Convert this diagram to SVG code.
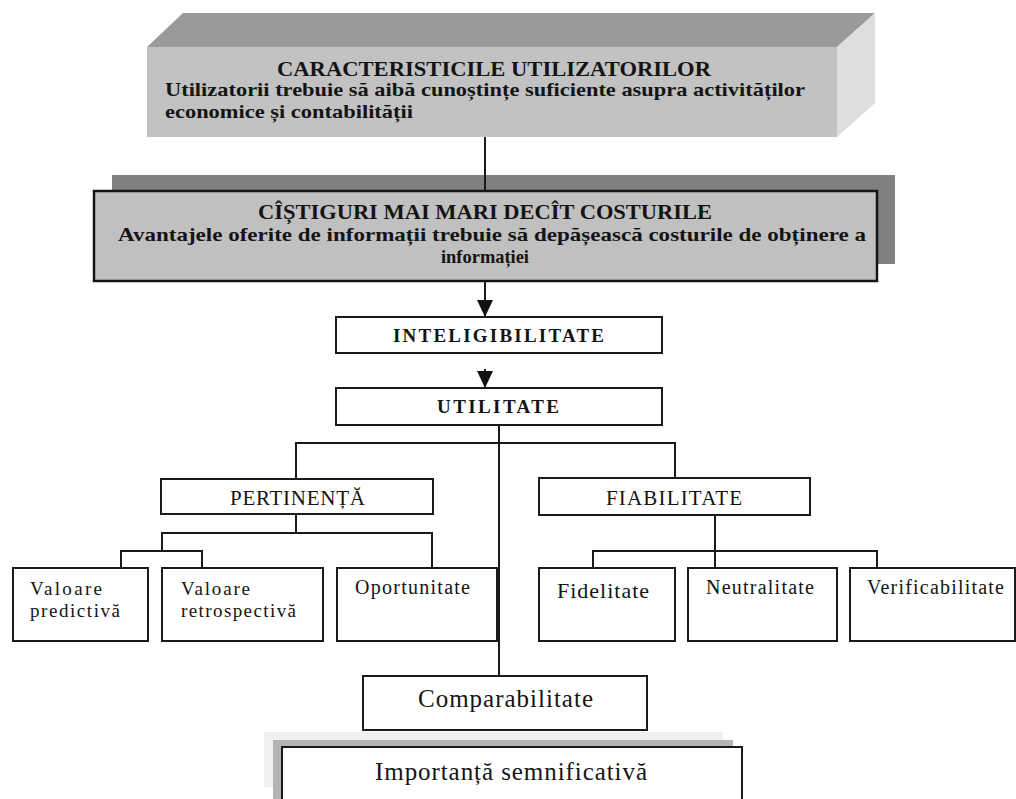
<svg xmlns="http://www.w3.org/2000/svg" width="1016" height="799" viewBox="0 0 1016 799">
  <style>
    .t { font-family: "Liberation Serif", "Times New Roman", serif; fill: #141414; }
    .b { font-weight: bold; }
    .box { fill: #ffffff; stroke: #1a1a1a; stroke-width: 2; }
    .gbox { fill: #c0c0c0; stroke: #141414; stroke-width: 2.5; }
    .ln { fill: none; stroke: #1a1a1a; stroke-width: 2; }
  </style>
  <defs>
    <marker id="arrow" markerUnits="userSpaceOnUse" markerWidth="18" markerHeight="16" refX="17" refY="8" orient="auto">
      <path d="M0,0 L17,8 L0,16 Z" fill="#111"/>
    </marker>
  </defs>
  <rect width="1016" height="799" fill="#ffffff"/>

  <!-- 3D block: user characteristics -->
  <g id="caracteristici">
    <polygon points="147,47 183,13 875,13 837,47" fill="#9a9a9a"/>
    <polygon points="837,47 875,13 875,103 837,137" fill="#dedede"/>
    <rect x="147" y="47" width="690" height="90" fill="#c2c2c2"/>
    <text class="t b" x="277" y="76" font-size="20" textLength="434" lengthAdjust="spacingAndGlyphs">CARACTERISTICILE UTILIZATORILOR</text>
    <text class="t b" x="165" y="96" font-size="19" textLength="640" lengthAdjust="spacingAndGlyphs">Utilizatorii trebuie să aibă cunoștințe suficiente asupra activităților</text>
    <text class="t b" x="165" y="118" font-size="19" textLength="248" lengthAdjust="spacingAndGlyphs">economice și contabilității</text>
  </g>

  <!-- Shadowed block: benefits over costs -->
  <g id="castiguri">
    <rect x="112" y="175" width="783" height="89" fill="#808080"/>
    <rect class="gbox" x="94" y="191" width="783" height="90"/>
    <text class="t b" x="258" y="219" font-size="20" textLength="454" lengthAdjust="spacingAndGlyphs">CÎȘTIGURI MAI MARI DECÎT COSTURILE</text>
    <text class="t b" x="118" y="241" font-size="19" textLength="748" lengthAdjust="spacingAndGlyphs">Avantajele oferite de informații trebuie să depășească costurile de obținere a</text>
    <text class="t b" x="441" y="263" font-size="19" textLength="88" lengthAdjust="spacingAndGlyphs">informației</text>
  </g>

  <g id="inteligibilitate">
    <rect class="box" x="336" y="317" width="326" height="36"/>
    <text class="t b" x="393" y="342" font-size="19" textLength="211" lengthAdjust="spacing">INTELIGIBILITATE</text>
  </g>

  <g id="utilitate">
    <rect class="box" x="336" y="388" width="326" height="37"/>
    <text class="t b" x="437" y="413" font-size="19" textLength="122" lengthAdjust="spacing">UTILITATE</text>
  </g>

  <g id="pertinenta">
    <rect class="box" x="161" y="479" width="272" height="35"/>
    <text class="t" x="230" y="505" font-size="21" textLength="135" lengthAdjust="spacing">PERTINENȚĂ</text>
  </g>

  <g id="fiabilitate">
    <rect class="box" x="539" y="478" width="271" height="37"/>
    <text class="t" x="606" y="505" font-size="21" textLength="136" lengthAdjust="spacing">FIABILITATE</text>
  </g>

  <g id="valoare-predictiva">
    <rect class="box" x="13" y="568" width="135" height="73"/>
    <text class="t" x="30" y="595" font-size="19" textLength="72" lengthAdjust="spacing">Valoare</text>
    <text class="t" x="30" y="617" font-size="19" textLength="90" lengthAdjust="spacing">predictivă</text>
  </g>

  <g id="valoare-retrospectiva">
    <rect class="box" x="162" y="568" width="161" height="73"/>
    <text class="t" x="181" y="595" font-size="19" textLength="69" lengthAdjust="spacing">Valoare</text>
    <text class="t" x="181" y="617" font-size="19" textLength="115" lengthAdjust="spacing">retrospectivă</text>
  </g>

  <g id="oportunitate">
    <rect class="box" x="337" y="568" width="160" height="73"/>
    <text class="t" x="355" y="594" font-size="20" textLength="115" lengthAdjust="spacing">Oportunitate</text>
  </g>

  <g id="fidelitate">
    <rect class="box" x="539" y="568" width="136" height="73"/>
    <text class="t" x="557" y="598" font-size="22" textLength="92" lengthAdjust="spacing">Fidelitate</text>
  </g>

  <g id="neutralitate">
    <rect class="box" x="688" y="568" width="149" height="73"/>
    <text class="t" x="706" y="594" font-size="20" textLength="108" lengthAdjust="spacing">Neutralitate</text>
  </g>

  <g id="verificabilitate">
    <rect class="box" x="850" y="568" width="165" height="73"/>
    <text class="t" x="867" y="594" font-size="20" textLength="137" lengthAdjust="spacing">Verificabilitate</text>
  </g>

  <g id="comparabilitate">
    <rect class="box" x="363" y="676" width="284" height="54"/>
    <text class="t" x="418" y="707" font-size="25" textLength="175" lengthAdjust="spacing">Comparabilitate</text>
  </g>

  <g id="importanta">
    <rect x="264" y="732" width="459" height="55" fill="#f0f0f0"/>
    <rect x="273" y="740" width="460" height="59" fill="#b4b4b4"/>
    <rect class="box" x="282" y="747" width="460" height="60"/>
    <text class="t" x="375" y="780" font-size="25" textLength="272" lengthAdjust="spacing">Importanță semnificativă</text>
  </g>

  <!-- Connectors -->
  <g id="connectors">
    <line class="ln" x1="485" y1="137" x2="485" y2="191"/>
    <line class="ln" x1="485" y1="281" x2="485" y2="317" marker-end="url(#arrow)"/>
    <line class="ln" x1="485" y1="369" x2="485" y2="388" marker-end="url(#arrow)"/>
    <line class="ln" x1="499" y1="425" x2="499" y2="676"/>
    <polyline class="ln" points="296,479 296,443 675,443 675,478"/>
    <polyline class="ln" points="296,514 296,533"/>
    <polyline class="ln" points="162,551 162,533 432,533 432,568"/>
    <polyline class="ln" points="121,568 121,551 202,551 202,568"/>
    <line class="ln" x1="715" y1="515" x2="715" y2="568"/>
    <polyline class="ln" points="593,568 593,551 877,551 877,568"/>
  </g>
</svg>
